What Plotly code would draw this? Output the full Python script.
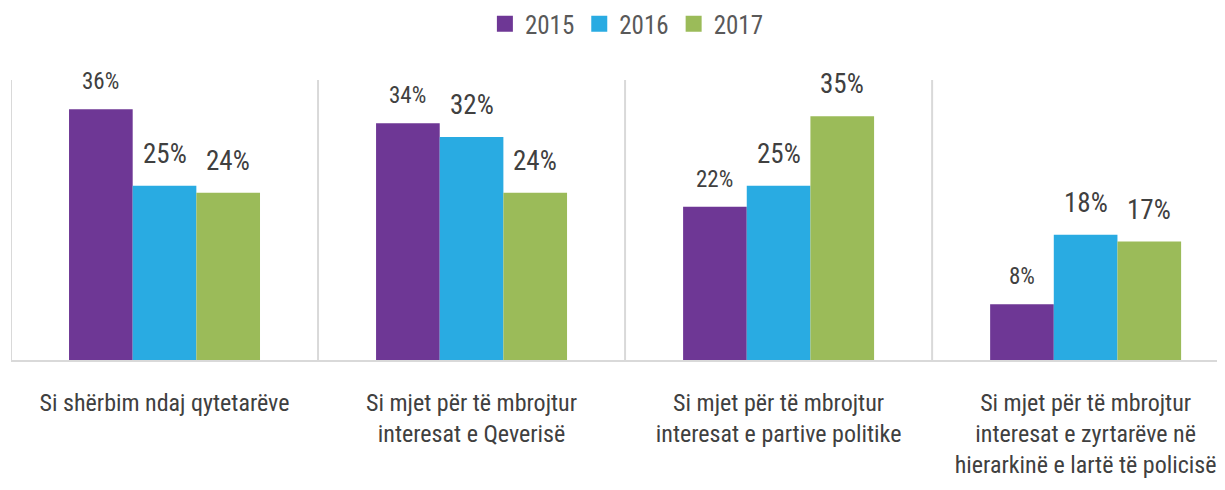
import plotly.graph_objects as go

categories = [
    "Si shërbim ndaj qytetarëve",
    "Si mjet për të mbrojtur<br>interesat e Qeverisë",
    "Si mjet për të mbrojtur<br>interesat e partive politike",
    "Si mjet për të mbrojtur<br>interesat e zyrtarëve në<br>hierarkinë e lartë të policisë",
]
series_names = ["2015", "2016", "2017"]
values_2015 = [36, 34, 22, 8]
values_2016 = [25, 32, 25, 18]
values_2017 = [24, 24, 35, 17]
colors = ["#6E3795", "#29ABE2", "#9BBB59"]
label_sizes = [23, 27, 27]

FONT = "Roboto Condensed, DejaVu Sans Condensed, sans-serif"
TXT = "#404040"

all_vals = [values_2015, values_2016, values_2017]
x_idx = list(range(len(categories)))

fig = go.Figure()
for name, vals, col in zip(series_names, all_vals, colors):
    fig.add_trace(go.Bar(x=x_idx, y=vals, name=name, marker=dict(color=col, line=dict(width=0)),
                         showlegend=False))
    fig.add_trace(go.Scatter(x=[None], y=[None], mode="markers", name=name,
                             marker=dict(symbol="square", size=18, color=col)))

bargap = 0.378
bw = (1 - bargap) / 3
for s, (vals, fs) in enumerate(zip(all_vals, label_sizes)):
    off = (s - 1) * bw
    for i, v in enumerate(vals):
        fig.add_annotation(x=i + off, y=v, text=f"{v}%", showarrow=False, yanchor="bottom",
                           yshift=12 if s == 0 else 14,
                           font=dict(family=FONT, size=fs, color=TXT))

for b in [-0.5, 0.5, 1.5, 2.5]:
    fig.add_shape(type="line", xref="x", yref="paper", x0=b, x1=b, y0=0, y1=1,
                  line=dict(color="#D9D9D9", width=2), layer="below")

fig.update_layout(
    width=1225, height=490,
    margin=dict(l=3, r=0, t=72, b=138, autoexpand=False),
    paper_bgcolor="white", plot_bgcolor="white",
    barmode="group", bargap=bargap, bargroupgap=0,
    font=dict(family=FONT, color=TXT),
    legend=dict(orientation="h", x=0.504, xanchor="center", y=1.2, yanchor="middle",
                font=dict(size=25, color="#595959"), itemwidth=30, tracegroupgap=0),
    xaxis=dict(tickmode="array", tickvals=x_idx, ticktext=categories, range=[-0.5, 3.48],
               showline=True, linecolor="#D9D9D9", linewidth=2, showgrid=False, zeroline=False,
               tickfont=dict(size=24, color=TXT), ticks="", ticklabelstandoff=20,
               ticklabeloverflow="allow", automargin=False),
    yaxis=dict(range=[0, 40.2], visible=False, showgrid=False, zeroline=False),
)
fig.write_html("out.html")
